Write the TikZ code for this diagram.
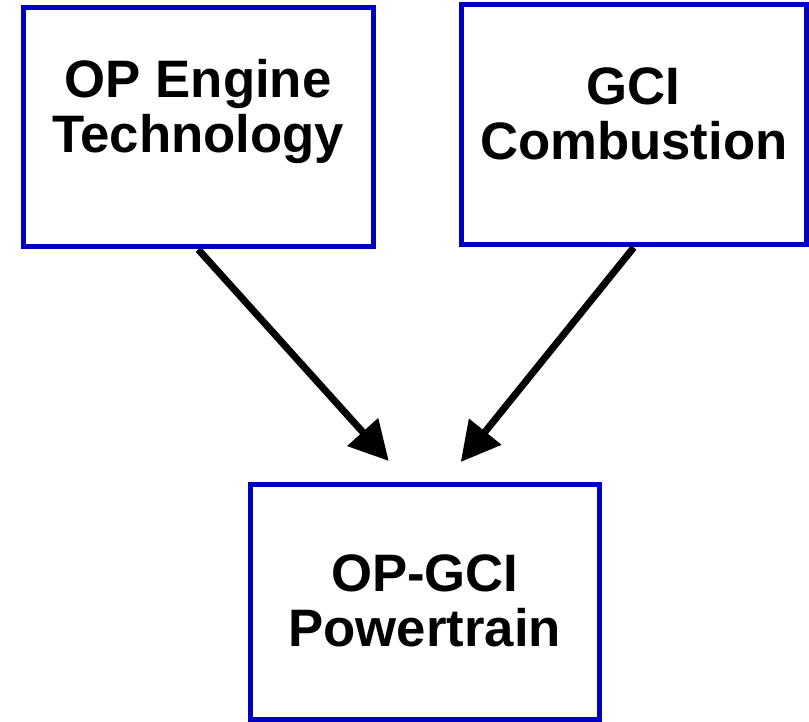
\documentclass[tikz,border=0pt]{standalone}
\usepackage{fontspec}
\setmainfont{Liberation Sans}
\usepackage{tikz}
\usepackage{xcolor}
\usetikzlibrary{positioning,arrows.meta,calc}
\definecolor{opblue}{HTML}{0000BF}
\definecolor{opink}{HTML}{000000}
\tikzset{
  stage/.style ={draw=opblue, line width=0.1cm, fill=white, align=center,
                 minimum width=6.99cm, minimum height=4.78cm, inner sep=0pt,
                 text height=2cm, text depth=0.21cm,
                 font=\bfseries\fontsize{30}{31.75}\selectfont, text=opink},
  feed/.style  ={-{Triangle[length=0.78cm, width=0.8cm]}, draw=opink,
                 line width=0.14cm},
}

\begin{document}
\begin{tikzpicture}
  \useasboundingbox (0,0) rectangle (16.18,14.44);

  \node[stage, text depth=0.98cm] (op) at (3.965,11.89) {OP Engine\\Technology};
  \node[stage, text depth=0.59cm, minimum width=6.91cm, minimum height=4.81cm]
    (gci) at (12.675,11.945) {GCI\\Combustion};
  \node[stage, minimum height=4.71cm] (pt) at (8.495,2.395) {OP-GCI\\Powertrain};

  % arrow ends stop short of the powertrain box
  \coordinate (opin)  at ($(pt.north)+(-0.72,0.42)$);
  \coordinate (gciin) at ($(pt.north)+(0.72,0.40)$);

  \draw[feed] (op.south) -- (opin);
  \draw[feed] (gci.south) -- (gciin);

\end{tikzpicture}
\end{document}
